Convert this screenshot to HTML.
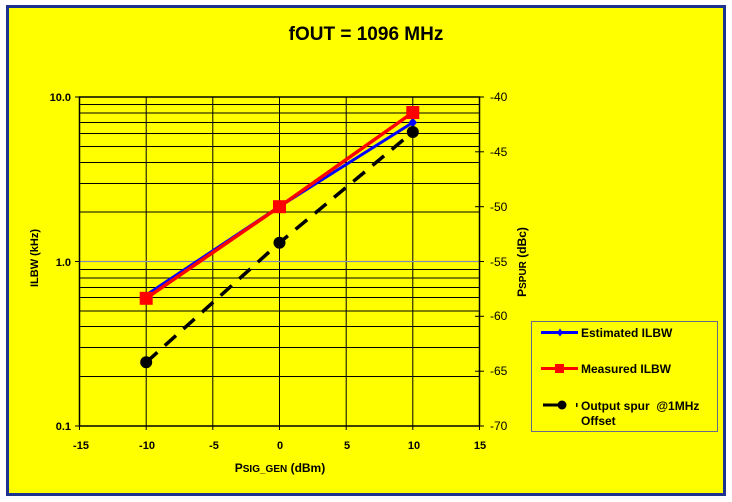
<!DOCTYPE html>
<html><head><meta charset="utf-8"><style>
html,body{margin:0;padding:0;background:#fff;}
svg{display:block;}
text{font-family:"Liberation Sans",Arial,sans-serif;}
</style></head><body>
<svg width="732" height="502" viewBox="0 0 732 502" xmlns="http://www.w3.org/2000/svg">
<rect x="0" y="0" width="732" height="502" fill="#ffffff"/>
<rect x="7.5" y="6.5" width="717" height="488" fill="#ffff00" stroke="#1c3490" stroke-width="3"/>
<text x="366" y="40" font-size="19" font-weight="bold" text-anchor="middle" fill="#000">fOUT = 1096 MHz</text>
<!-- gridlines -->
<g stroke="#000" stroke-width="1">
<line x1="79.5" x2="479.5" y1="104.5" y2="104.5"/>
<line x1="79.5" x2="479.5" y1="113" y2="113"/>
<line x1="79.5" x2="479.5" y1="122.5" y2="122.5"/>
<line x1="79.5" x2="479.5" y1="133.5" y2="133.5"/>
<line x1="79.5" x2="479.5" y1="146.5" y2="146.5"/>
<line x1="79.5" x2="479.5" y1="162.5" y2="162.5"/>
<line x1="79.5" x2="479.5" y1="183.5" y2="183.5"/>
<line x1="79.5" x2="479.5" y1="212" y2="212"/>
<line x1="79.5" x2="479.5" y1="269.5" y2="269.5"/>
<line x1="79.5" x2="479.5" y1="278" y2="278"/>
<line x1="79.5" x2="479.5" y1="287.5" y2="287.5"/>
<line x1="79.5" x2="479.5" y1="297.5" y2="297.5"/>
<line x1="79.5" x2="479.5" y1="311" y2="311"/>
<line x1="79.5" x2="479.5" y1="326.5" y2="326.5"/>
<line x1="79.5" x2="479.5" y1="347.5" y2="347.5"/>
<line x1="79.5" x2="479.5" y1="376.5" y2="376.5"/>
<line x1="146.2" x2="146.2" y1="97" y2="430"/>
<line x1="212.8" x2="212.8" y1="97" y2="430"/>
<line x1="279.5" x2="279.5" y1="97" y2="430"/>
<line x1="346.2" x2="346.2" y1="97" y2="430"/>
<line x1="412.8" x2="412.8" y1="97" y2="430"/>
<line x1="79.5" x2="79.5" y1="426" y2="430"/>
<line x1="479.5" x2="479.5" y1="426" y2="430"/>
<line x1="75" x2="79.5" y1="97" y2="97"/>
<line x1="75" x2="79.5" y1="261.5" y2="261.5"/>
<line x1="75" x2="79.5" y1="426" y2="426"/>
<line x1="475" x2="484" y1="97" y2="97"/>
<line x1="475" x2="484" y1="151.8" y2="151.8"/>
<line x1="475" x2="484" y1="206.7" y2="206.7"/>
<line x1="475" x2="484" y1="261.5" y2="261.5"/>
<line x1="475" x2="484" y1="316.3" y2="316.3"/>
<line x1="475" x2="484" y1="371.2" y2="371.2"/>
<line x1="475" x2="484" y1="426" y2="426"/>
</g>
<line x1="79.5" x2="479.5" y1="261.5" y2="261.5" stroke="#8a8ab8" stroke-width="1.2"/>
<rect x="79.5" y="97" width="400" height="329" fill="none" stroke="#000" stroke-width="1.5"/>
<!-- left labels -->
<g font-size="11" font-weight="bold" text-anchor="end" fill="#000">
<text x="71" y="101">10.0</text>
<text x="71" y="266">1.0</text>
<text x="71" y="430">0.1</text>
</g>
<!-- bottom labels -->
<g font-size="11" font-weight="bold" text-anchor="middle" fill="#000">
<text x="81" y="449">-15</text>
<text x="147" y="449">-10</text>
<text x="214" y="449">-5</text>
<text x="280" y="449">0</text>
<text x="347" y="449">5</text>
<text x="414" y="449">10</text>
<text x="480" y="449">15</text>
</g>
<!-- right labels -->
<g font-size="12" fill="#000">
<text x="490" y="101">-40</text>
<text x="490" y="156">-45</text>
<text x="490" y="211">-50</text>
<text x="490" y="266">-55</text>
<text x="490" y="320">-60</text>
<text x="490" y="375">-65</text>
<text x="490" y="430">-70</text>
</g>
<!-- axis titles -->
<text x="280" y="472" font-size="12" font-weight="bold" text-anchor="middle" fill="#000">P<tspan font-size="10">SIG_GEN</tspan> (dBm)</text>
<text transform="translate(38,258) rotate(-90)" font-size="11" font-weight="bold" text-anchor="middle" fill="#000">ILBW (kHz)</text>
<text transform="translate(526,262) rotate(-90)" font-size="12" font-weight="bold" text-anchor="middle" fill="#000">P<tspan font-size="10">SPUR</tspan> (dBc)</text>
<!-- series -->
<polyline points="146.2,295 279.5,206.5 412.8,122.5" fill="none" stroke="#0000ff" stroke-width="3"/>
<polygon points="412.8,117.5 417,122.5 412.8,127.5 408.6,122.5" fill="#0000ff"/>
<polyline points="146.2,298.3 279.5,206.7 412.8,112.5" fill="none" stroke="#ff0000" stroke-width="3.5"/>
<rect x="139.7" y="291.8" width="13" height="13" fill="#ff0000"/>
<rect x="273" y="200.2" width="13" height="13" fill="#ff0000"/>
<rect x="406.3" y="106" width="13" height="13" fill="#ff0000"/>
<polyline points="146.2,362.3 279.5,242.7 412.8,132" fill="none" stroke="#000" stroke-width="3.5" stroke-dasharray="15 10"/>
<circle cx="146.2" cy="362.3" r="6" fill="#000"/>
<circle cx="279.5" cy="242.7" r="6" fill="#000"/>
<circle cx="412.8" cy="132" r="6" fill="#000"/>
<!-- legend -->
<rect x="531.5" y="321.5" width="186" height="110" fill="none" stroke="#6a6a8a" stroke-width="1"/>
<line x1="541" x2="578" y1="332.5" y2="332.5" stroke="#0000ff" stroke-width="3"/>
<polygon points="560,328.5 563,332.5 560,336.5 557,332.5" fill="#0000ff"/>
<line x1="541" x2="578" y1="368.5" y2="368.5" stroke="#ff0000" stroke-width="3"/>
<rect x="555" y="364" width="9" height="9" fill="#ff0000"/>
<line x1="543" x2="561" y1="405" y2="405" stroke="#000" stroke-width="3"/>
<circle cx="562" cy="405" r="4.5" fill="#000"/>
<rect x="576" y="403" width="1.5" height="4" fill="#000"/>
<g font-size="12" font-weight="bold" fill="#000">
<text x="581" y="337">Estimated ILBW</text>
<text x="581" y="373">Measured ILBW</text>
<text x="581" y="410" xml:space="preserve">Output spur  @1MHz</text>
<text x="581" y="425">Offset</text>
</g>
</svg>
</body></html>
